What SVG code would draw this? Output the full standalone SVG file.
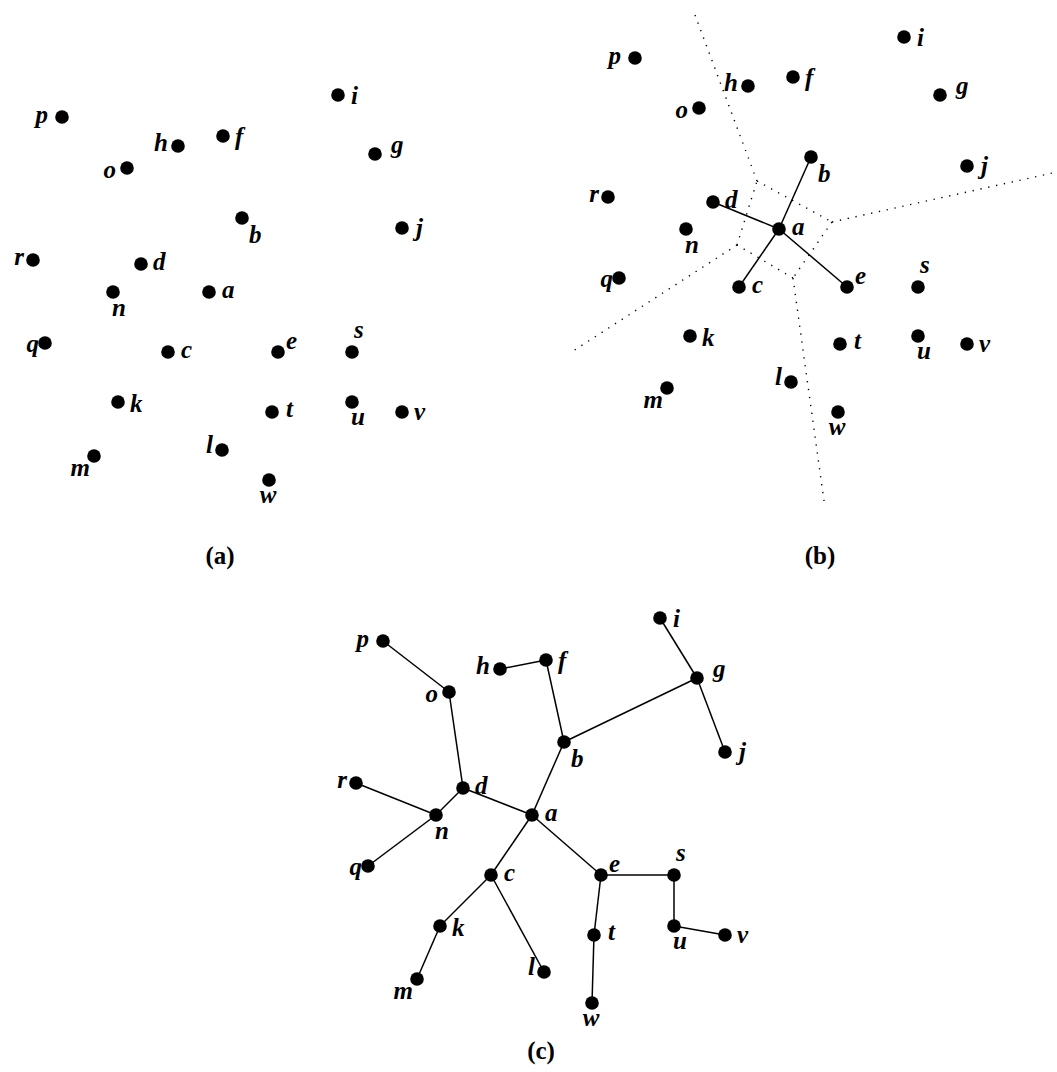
<svg xmlns="http://www.w3.org/2000/svg" width="1057" height="1072" viewBox="0 0 1057 1072">
<style>
.l{font-family:"Liberation Serif","Times New Roman",serif;font-size:25px;font-weight:bold;font-style:italic;fill:#000}
.e{text-anchor:end}
.m{text-anchor:middle}
.cap{font-family:"Liberation Serif","Times New Roman",serif;font-size:25px;font-weight:bold;fill:#000;text-anchor:middle}
.edge{stroke:#000;stroke-width:1.5;fill:none}
.vor{stroke:#000;stroke-width:1.4;fill:none;stroke-dasharray:1.3 6.7}
</style>
<rect width="1057" height="1072" fill="#fff"/>
<defs><circle id="dot" r="6.8"/></defs>

<!-- Panel (a) -->
<g id="panel-a">
<g id="a-a"><use href="#dot" x="209" y="292"/><text class="l" x="222" y="298">a</text></g>
<g id="a-b"><use href="#dot" x="242" y="218"/><text class="l" x="249" y="243">b</text></g>
<g id="a-c"><use href="#dot" x="168" y="352"/><text class="l" x="181" y="358">c</text></g>
<g id="a-d"><use href="#dot" x="141" y="264"/><text class="l" x="153" y="270">d</text></g>
<g id="a-e"><use href="#dot" x="278" y="352"/><text class="l" x="286" y="349">e</text></g>
<g id="a-f"><use href="#dot" x="223" y="136"/><text class="l" x="235" y="145">f</text></g>
<g id="a-g"><use href="#dot" x="375" y="154"/><text class="l" x="391" y="153">g</text></g>
<g id="a-h"><use href="#dot" x="178" y="146"/><text class="l e" x="168" y="151">h</text></g>
<g id="a-i"><use href="#dot" x="338" y="95"/><text class="l" x="351" y="104">i</text></g>
<g id="a-j"><use href="#dot" x="402" y="228"/><text class="l" x="416" y="236">j</text></g>
<g id="a-k"><use href="#dot" x="118" y="402"/><text class="l" x="130" y="412">k</text></g>
<g id="a-l"><use href="#dot" x="222" y="450"/><text class="l e" x="213" y="453">l</text></g>
<g id="a-m"><use href="#dot" x="94" y="456"/><text class="l e" x="90" y="476">m</text></g>
<g id="a-n"><use href="#dot" x="113" y="292"/><text class="l" x="112" y="316">n</text></g>
<g id="a-o"><use href="#dot" x="127" y="168"/><text class="l e" x="116" y="178">o</text></g>
<g id="a-p"><use href="#dot" x="62" y="117"/><text class="l e" x="48" y="123">p</text></g>
<g id="a-q"><use href="#dot" x="45" y="343"/><text class="l e" x="39" y="352">q</text></g>
<g id="a-r"><use href="#dot" x="33" y="260"/><text class="l e" x="24" y="265">r</text></g>
<g id="a-s"><use href="#dot" x="352" y="352"/><text class="l" x="354" y="338">s</text></g>
<g id="a-t"><use href="#dot" x="272" y="412"/><text class="l" x="286" y="417">t</text></g>
<g id="a-u"><use href="#dot" x="352" y="402"/><text class="l" x="351" y="425">u</text></g>
<g id="a-v"><use href="#dot" x="402" y="412"/><text class="l" x="414" y="420">v</text></g>
<g id="a-w"><use href="#dot" x="269" y="480"/><text class="l m" x="268" y="503">w</text></g>
<text class="cap" x="220" y="564">(a)</text>
</g>

<!-- Panel (b) -->
<g id="b-connectors">
<polyline class="vor" points="695,15 757,181"/>
<polyline class="vor" points="757,181 832,222"/>
<polyline class="vor" points="832,222 1057,172"/>
<polyline class="vor" points="832,222 793,278"/>
<polyline class="vor" points="793,278 824,501"/>
<polyline class="vor" points="793,278 737,245"/>
<polyline class="vor" points="737,245 570,353"/>
<polyline class="vor" points="737,245 757,181"/>
<line class="edge" x1="779" y1="229" x2="811" y2="157"/>
<line class="edge" x1="779" y1="229" x2="713" y2="202"/>
<line class="edge" x1="779" y1="229" x2="739" y2="287"/>
<line class="edge" x1="779" y1="229" x2="847" y2="287"/>
</g>
<g id="panel-b">
<g id="b-a"><use href="#dot" x="779" y="229"/><text class="l" x="792" y="235">a</text></g>
<g id="b-b"><use href="#dot" x="811" y="157"/><text class="l" x="818" y="182">b</text></g>
<g id="b-c"><use href="#dot" x="739" y="287"/><text class="l" x="752" y="293">c</text></g>
<g id="b-d"><use href="#dot" x="713" y="202"/><text class="l" x="725" y="208">d</text></g>
<g id="b-e"><use href="#dot" x="847" y="287"/><text class="l" x="855" y="284">e</text></g>
<g id="b-f"><use href="#dot" x="793" y="77"/><text class="l" x="805" y="86">f</text></g>
<g id="b-g"><use href="#dot" x="940" y="95"/><text class="l" x="956" y="94">g</text></g>
<g id="b-h"><use href="#dot" x="748" y="86"/><text class="l e" x="738" y="91">h</text></g>
<g id="b-i"><use href="#dot" x="904" y="37"/><text class="l" x="917" y="46">i</text></g>
<g id="b-j"><use href="#dot" x="967" y="166"/><text class="l" x="981" y="174">j</text></g>
<g id="b-k"><use href="#dot" x="690" y="336"/><text class="l" x="702" y="346">k</text></g>
<g id="b-l"><use href="#dot" x="791" y="382"/><text class="l e" x="782" y="385">l</text></g>
<g id="b-m"><use href="#dot" x="667" y="388"/><text class="l e" x="663" y="408">m</text></g>
<g id="b-n"><use href="#dot" x="686" y="229"/><text class="l" x="685" y="253">n</text></g>
<g id="b-o"><use href="#dot" x="699" y="108"/><text class="l e" x="688" y="118">o</text></g>
<g id="b-p"><use href="#dot" x="635" y="58"/><text class="l e" x="621" y="64">p</text></g>
<g id="b-q"><use href="#dot" x="619" y="278"/><text class="l e" x="613" y="287">q</text></g>
<g id="b-r"><use href="#dot" x="608" y="197"/><text class="l e" x="599" y="202">r</text></g>
<g id="b-s"><use href="#dot" x="918" y="287"/><text class="l" x="920" y="273">s</text></g>
<g id="b-t"><use href="#dot" x="840" y="344"/><text class="l" x="854" y="349">t</text></g>
<g id="b-u"><use href="#dot" x="918" y="336"/><text class="l" x="917" y="359">u</text></g>
<g id="b-v"><use href="#dot" x="967" y="344"/><text class="l" x="979" y="352">v</text></g>
<g id="b-w"><use href="#dot" x="838" y="412"/><text class="l m" x="837" y="435">w</text></g>
<text class="cap" x="820" y="564">(b)</text>
</g>

<!-- Panel (c) -->
<g id="c-connectors">
<line class="edge" x1="383" y1="641" x2="449" y2="692"/>
<line class="edge" x1="449" y1="692" x2="463" y2="788"/>
<line class="edge" x1="463" y1="788" x2="436" y2="815"/>
<line class="edge" x1="436" y1="815" x2="356" y2="783"/>
<line class="edge" x1="436" y1="815" x2="368" y2="866"/>
<line class="edge" x1="463" y1="788" x2="532" y2="815"/>
<line class="edge" x1="532" y1="815" x2="564" y2="742"/>
<line class="edge" x1="564" y1="742" x2="546" y2="660"/>
<line class="edge" x1="546" y1="660" x2="500" y2="669"/>
<line class="edge" x1="564" y1="742" x2="697" y2="678"/>
<line class="edge" x1="697" y1="678" x2="660" y2="618"/>
<line class="edge" x1="697" y1="678" x2="725" y2="752"/>
<line class="edge" x1="532" y1="815" x2="491" y2="875"/>
<line class="edge" x1="491" y1="875" x2="440" y2="926"/>
<line class="edge" x1="440" y1="926" x2="417" y2="979"/>
<line class="edge" x1="491" y1="875" x2="544" y2="972"/>
<line class="edge" x1="532" y1="815" x2="601" y2="875"/>
<line class="edge" x1="601" y1="875" x2="594" y2="935"/>
<line class="edge" x1="594" y1="935" x2="592" y2="1003"/>
<line class="edge" x1="601" y1="875" x2="674" y2="875"/>
<line class="edge" x1="674" y1="875" x2="674" y2="926"/>
<line class="edge" x1="674" y1="926" x2="725" y2="935"/>
</g>
<g id="panel-c">
<g id="c-a"><use href="#dot" x="532" y="815"/><text class="l" x="545" y="821">a</text></g>
<g id="c-b"><use href="#dot" x="564" y="742"/><text class="l" x="571" y="767">b</text></g>
<g id="c-c"><use href="#dot" x="491" y="875"/><text class="l" x="504" y="881">c</text></g>
<g id="c-d"><use href="#dot" x="463" y="788"/><text class="l" x="475" y="794">d</text></g>
<g id="c-e"><use href="#dot" x="601" y="875"/><text class="l" x="609" y="872">e</text></g>
<g id="c-f"><use href="#dot" x="546" y="660"/><text class="l" x="558" y="669">f</text></g>
<g id="c-g"><use href="#dot" x="697" y="678"/><text class="l" x="713" y="677">g</text></g>
<g id="c-h"><use href="#dot" x="500" y="669"/><text class="l e" x="490" y="674">h</text></g>
<g id="c-i"><use href="#dot" x="660" y="618"/><text class="l" x="673" y="627">i</text></g>
<g id="c-j"><use href="#dot" x="725" y="752"/><text class="l" x="739" y="760">j</text></g>
<g id="c-k"><use href="#dot" x="440" y="926"/><text class="l" x="452" y="936">k</text></g>
<g id="c-l"><use href="#dot" x="544" y="972"/><text class="l e" x="535" y="975">l</text></g>
<g id="c-m"><use href="#dot" x="417" y="979"/><text class="l e" x="413" y="999">m</text></g>
<g id="c-n"><use href="#dot" x="436" y="815"/><text class="l" x="435" y="839">n</text></g>
<g id="c-o"><use href="#dot" x="449" y="692"/><text class="l e" x="438" y="702">o</text></g>
<g id="c-p"><use href="#dot" x="383" y="641"/><text class="l e" x="369" y="647">p</text></g>
<g id="c-q"><use href="#dot" x="368" y="866"/><text class="l e" x="362" y="875">q</text></g>
<g id="c-r"><use href="#dot" x="356" y="783"/><text class="l e" x="347" y="788">r</text></g>
<g id="c-s"><use href="#dot" x="674" y="875"/><text class="l" x="676" y="861">s</text></g>
<g id="c-t"><use href="#dot" x="594" y="935"/><text class="l" x="608" y="940">t</text></g>
<g id="c-u"><use href="#dot" x="674" y="926"/><text class="l" x="673" y="949">u</text></g>
<g id="c-v"><use href="#dot" x="725" y="935"/><text class="l" x="737" y="943">v</text></g>
<g id="c-w"><use href="#dot" x="592" y="1003"/><text class="l m" x="591" y="1026">w</text></g>
<text class="cap" x="541" y="1059">(c)</text>
</g>
</svg>
